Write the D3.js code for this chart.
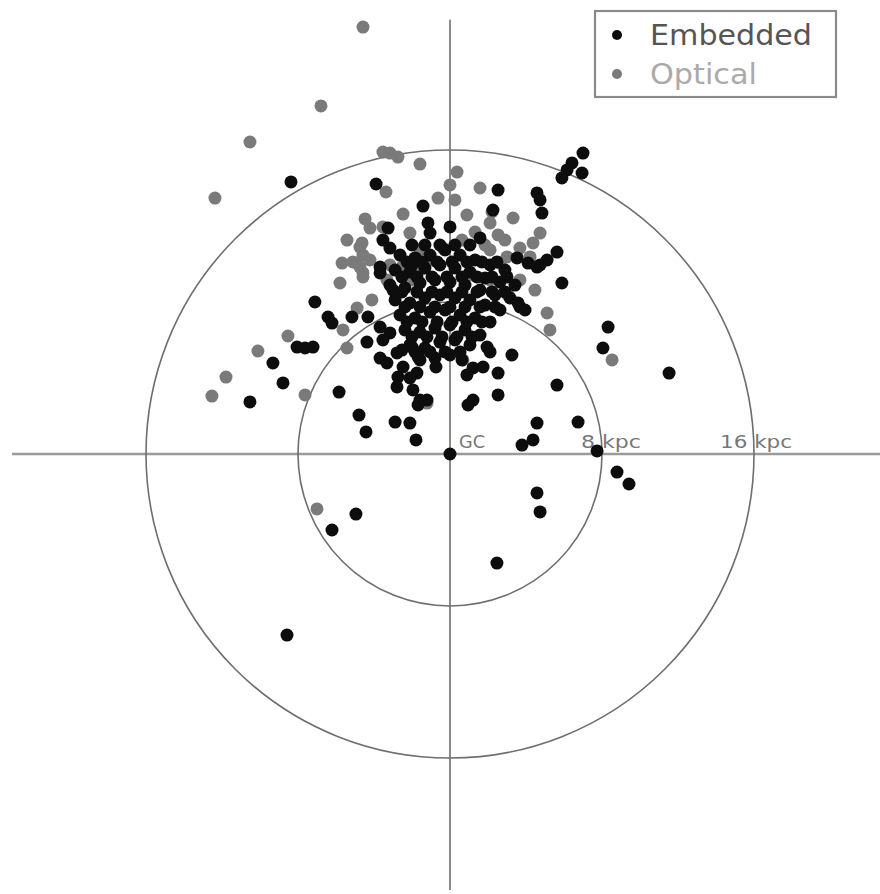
<!DOCTYPE html>
<html>
<head>
<meta charset="utf-8">
<script src="https://cdn.jsdelivr.net/npm/d3@7"></script>
<style>
  html, body { margin: 0; padding: 0; background: #fff; }
  svg { display: block; }
</style>
</head>
<body>
<svg id="chart" width="880" height="894"></svg>
<script>
// Galactocentric positions (kpc): x along the GC axis, y perpendicular.
const ringRadii = [8, 16];
const ringLabels = ["8 kpc", "16 kpc"];
const centerLabel = "GC";
const seriesNames = ["Embedded", "Optical"];

const galacticCenter = [[0, 0]];

const opticalX = [
  -4.58, -6.79, -10.53, -12.37, -11.79, -12.53, -10.11, -8.53, -7.63, -3.53,
  -3.16, -2.74, -1.58, -3.37, -0.63, -2.47, -4.47, -4.21, -5.42, -4.63,
  -2.11, -5.68, -4.89, -4.58, -5.79, -4.11, -4.89, -5.63, -5.42, -1.21,
  -3.16, -7.00, 8.53, 5.11, 5.26, 3.05, 0.37, 0.00, 0.26, 1.58,
  2.21, 3.32, 0.89, 2.11, 4.74, 4.37, 2.89, 4.21, 2.11, 2.63,
  3.68, 3.00, -4.74, -4.58, -5.11, -4.21, -4.74, -4.58, -2.53, -2.47,
  -1.58, -0.37, -1.58, -3.32, -1.95, 0.68, 1.32, 0.63, 1.84, 2.53,
  -3.53, -1.05, 1.05, 3.68, 4.47, 2.11
];
const opticalY = [
  22.47, 18.32, 16.42, 13.47, 4.05, 3.05, 5.42, 6.21, 3.11, 15.89,
  15.84, 15.63, 15.26, 13.79, 13.47, 12.63, 12.37, 11.89, 11.26, 11.11,
  11.63, 10.05, 10.05, 9.53, 9.00, 8.11, 7.68, 6.53, 5.58, 2.68,
  9.95, -2.89, 4.95, 7.42, 6.53, 8.37, 14.84, 14.16, 13.37, 14.00,
  12.74, 12.42, 12.58, 12.16, 11.63, 11.11, 11.26, 10.37, 10.74, 10.05,
  10.84, 10.37, 10.89, 10.47, 10.11, 10.21, 9.84, 9.32, 9.84, 9.32,
  10.74, 10.84, 9.68, 9.16, 9.16, 4.95, 11.68, 11.26, 11.00, 11.53,
  11.95, 10.21, 9.42, 9.16, 8.63, 9.16
];

const embeddedX = [
  -8.37, -3.89, -1.42, -1.16, -3.26, -3.53, -3.16, -2.00, -3.68, -2.00,
  -3.00, -7.11, -6.42, -6.21, -5.16, -4.32, -3.68, -4.37, -8.05, -7.63,
  -7.21, -9.32, -8.79, -10.53, -5.84, -4.79, -3.53, -3.16, -2.79, -3.68,
  -3.32, -2.47, -2.74, -1.74, -0.74, -2.79, -1.95, -1.58, -2.11, -2.53,
  -2.00, -1.68, -1.21, -1.68, -2.89, -2.11, -1.79, -4.42, 3.68, 3.95,
  1.95, 2.11, 3.26, 1.21, 0.89, 1.74, 2.53, 5.63, 1.21, 0.95,
  2.53, 4.58, 6.74, 4.37, 3.79, 7.74, 8.79, 9.42, -4.95, -6.21,
  4.58, 4.74, 2.47, -8.58, 7.00, 6.42, 6.16, 5.89, 6.95, 2.53,
  4.58, 4.74, 4.84, 2.26, 1.58, 5.63, 5.11, 4.74, 4.11, 5.89,
  3.58, 8.32, 8.05, 11.53, 0.00, 4.58, 3.53, -1.05, -3.68,
  // dense cluster near the solar neighbourhood
  -2.63, -1.84, -1.05, -0.26, 0.53, 1.32, 2.11, 2.89,
  -2.89, -2.11, -1.32, -0.53, 0.26, 1.05, 1.84, 2.63, 3.42,
  -3.16, -2.37, -1.58, -0.79, 0.00, 0.79, 1.58, 2.37, 3.16,
  -2.89, -2.11, -1.32, -0.53, 0.26, 1.05, 1.84, 2.63,
  -2.63, -1.84, -1.05, -0.26, 0.53, 1.32, 2.11,
  -2.37, -1.58, -0.79, 0.00, 0.79, 1.58,
  -2.11, -1.32, -0.53, 0.26, 1.05,
  -1.58, -0.79, 0.00, 0.63,
  -1.32, -0.53, 0.26, 1.05,
  -2.26, -1.47, -0.68, 0.11, 0.89, 1.68, 2.47,
  -2.53, -1.74, -0.95, -0.16, 0.63, 1.42, 2.21, 3.00,
  -2.53, -1.74, -0.95, -0.16, 0.63, 1.42, 2.21, 2.89,
  -2.37, -1.58, -0.79, 0.00, 0.79, 1.58, 2.37,
  -2.26, -1.47, -0.68, 0.11, 0.89, 1.68,
  -2.00, -1.21, -0.42, 0.37, 1.16,
  -1.84, -1.05, -0.26, 0.53
];
const embeddedY = [
  14.32, 14.21, 13.05, 12.16, 11.89, 11.26, 10.84, 11.00, 9.84, 9.95,
  8.63, 8.00, 7.21, 6.89, 7.21, 7.21, 6.68, 5.89, 5.63, 5.58,
  5.63, 4.79, 3.74, 2.74, 3.26, 2.05, 6.00, 6.37, 5.32, 5.05,
  4.79, 4.58, 4.05, 4.26, 4.58, 3.53, 3.37, 2.84, 4.00, 5.47,
  5.63, 5.11, 2.84, 2.58, 1.68, 1.63, 0.74, 1.16, 7.74, 7.58,
  5.63, 5.37, 5.21, 4.53, 4.16, 4.58, 4.26, 3.63, 2.84, 2.58,
  3.11, 1.63, 1.68, 0.74, 0.47, 0.16, -0.95, -1.58, -3.16, -4.00,
  -2.05, -3.05, -5.74, -9.53, 15.84, 15.32, 14.95, 14.53, 14.79, 13.89,
  13.74, 13.37, 12.68, 12.84, 11.37, 10.63, 10.21, 9.95, 10.05, 9.00,
  7.95, 6.68, 5.58, 4.26, 11.95, 9.84, 10.32, 11.63, 9.53,
  10.47, 10.32, 10.47, 10.74, 10.47, 10.21, 9.95, 9.68,
  9.68, 9.58, 9.79, 9.95, 9.79, 9.58, 9.26, 9.05, 8.89,
  8.89, 8.74, 9.00, 9.16, 9.05, 8.89, 8.63, 8.37, 8.21,
  8.11, 7.95, 8.21, 8.37, 8.21, 8.11, 7.84, 7.58,
  7.32, 7.16, 7.47, 7.58, 7.32, 7.16, 6.95,
  6.53, 6.42, 6.63, 6.79, 6.53, 6.26,
  5.74, 5.58, 5.89, 6.00, 5.74,
  4.95, 5.05, 5.21, 4.95,
  11.00, 11.00, 11.00, 11.00,
  10.11, 10.11, 10.11, 10.11, 10.11, 10.11, 10.11,
  9.32, 9.32, 9.32, 9.32, 9.32, 9.32, 9.32, 9.32,
  8.53, 8.53, 8.53, 8.53, 8.53, 8.53, 8.53, 8.53,
  7.74, 7.74, 7.74, 7.74, 7.74, 7.74, 7.74,
  6.95, 6.95, 6.95, 6.95, 6.95, 6.95,
  6.16, 6.16, 6.16, 6.16, 6.16,
  5.37, 5.37, 5.37, 5.37
];

const svg = d3.select("#chart");

// 19 px per kpc, galactic centre placed at (450, 454)
const x = d3.scaleLinear().domain([-16, 16]).range([146, 754]);
const y = d3.scaleLinear().domain([-16, 16]).range([758, 150]);
const pxPerKpc = x(1) - x(0);

const lineColor = "#6e6e6e";

// cross-hair axes through the GC
svg.append("line")
  .attr("x1", x(-23.05)).attr("x2", x(23.7))
  .attr("y1", y(0)).attr("y2", y(0))
  .attr("stroke", "#9a9a9a").attr("stroke-width", 2.6);
svg.append("line")
  .attr("x1", x(0)).attr("x2", x(0))
  .attr("y1", y(22.85)).attr("y2", y(-22.95))
  .attr("stroke", lineColor).attr("stroke-width", 1.6);

// distance rings
svg.selectAll("circle.ring")
  .data(ringRadii)
  .join("circle")
  .attr("class", "ring")
  .attr("cx", x(0)).attr("cy", y(0))
  .attr("r", d => d * pxPerKpc)
  .attr("fill", "none")
  .attr("stroke", lineColor)
  .attr("stroke-width", 1.6);

// ring and centre labels
const labelFont = "'DejaVu Sans', sans-serif";
svg.append("text")
  .attr("x", x(0) + 9).attr("y", y(0) - 6)
  .attr("font-family", labelFont).attr("font-size", 17)
  .attr("fill", "#777")
  .attr("textLength", 26).attr("lengthAdjust", "spacingAndGlyphs")
  .text(centerLabel);
const ringLabelWidth = [60, 72];
svg.selectAll("text.ringlabel")
  .data(ringRadii)
  .join("text")
  .attr("class", "ringlabel")
  .attr("x", (d, i) => x(d) - (i === 0 ? 21 : 34))
  .attr("y", y(0) - 6)
  .attr("font-family", labelFont).attr("font-size", 17)
  .attr("fill", "#777")
  .attr("textLength", (d, i) => ringLabelWidth[i])
  .attr("lengthAdjust", "spacingAndGlyphs")
  .text((d, i) => ringLabels[i]);

const pointR = 6.5;
const colors = { Embedded: "#0d0d0d", Optical: "#7a7a7a" };

const optical = opticalX.map((v, i) => [v, opticalY[i]]);
const embedded = embeddedX.map((v, i) => [v, embeddedY[i]]);

svg.append("g").selectAll("circle")
  .data(optical)
  .join("circle")
  .attr("cx", d => x(d[0])).attr("cy", d => y(d[1]))
  .attr("r", pointR).attr("fill", colors.Optical);

svg.append("g").selectAll("circle")
  .data(embedded)
  .join("circle")
  .attr("cx", d => x(d[0])).attr("cy", d => y(d[1]))
  .attr("r", pointR).attr("fill", colors.Embedded);

svg.append("g").selectAll("circle")
  .data(galacticCenter)
  .join("circle")
  .attr("cx", d => x(d[0])).attr("cy", d => y(d[1]))
  .attr("r", pointR).attr("fill", colors.Embedded);

// legend
const legend = svg.append("g").attr("transform", "translate(595,11)");
legend.append("rect")
  .attr("width", 241).attr("height", 86)
  .attr("fill", "#fff")
  .attr("stroke", "#8a8a8a").attr("stroke-width", 2.2);
const legendText = ["#555", "#aaa"];
seriesNames.forEach((name, i) => {
  legend.append("circle")
    .attr("cx", 22).attr("cy", 24 + i * 39)
    .attr("r", 5).attr("fill", colors[name]);
  legend.append("text")
    .attr("x", 55).attr("y", 34 + i * 39)
    .attr("font-family", labelFont)
    .attr("font-size", 29)
    .attr("fill", legendText[i])
    .attr("textLength", i === 0 ? 162 : 107)
    .attr("lengthAdjust", "spacingAndGlyphs")
    .text(name);
});
</script>
</body>
</html>
